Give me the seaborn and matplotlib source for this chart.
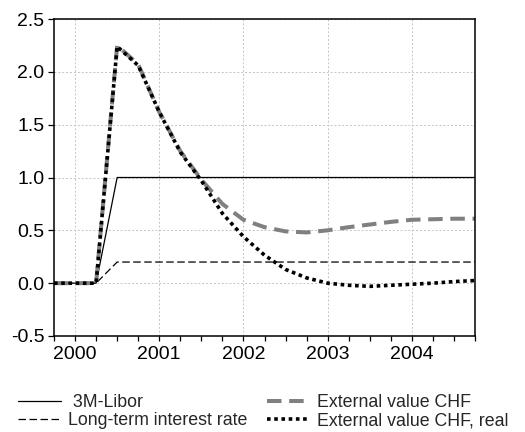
import numpy as np
import pandas as pd
import matplotlib
matplotlib.use("Agg")
import matplotlib.pyplot as plt
import seaborn as sns

# Quarterly impulse responses, 1999Q4 .. 2004Q4
quarters = ["1999Q4",
            "2000Q1", "2000Q2", "2000Q3", "2000Q4",
            "2001Q1", "2001Q2", "2001Q3", "2001Q4",
            "2002Q1", "2002Q2", "2002Q3", "2002Q4",
            "2003Q1", "2003Q2", "2003Q3", "2003Q4",
            "2004Q1", "2004Q2", "2004Q3", "2004Q4"]
libor_3m = [0, 0, 0, 1.0, 1.0, 1.0, 1.0, 1.0, 1.0, 1.0, 1.0,
            1.0, 1.0, 1.0, 1.0, 1.0, 1.0, 1.0, 1.0, 1.0, 1.0]
long_term_rate = [0, 0, 0, 0.2, 0.2, 0.2, 0.2, 0.2, 0.2, 0.2, 0.2,
                  0.2, 0.2, 0.2, 0.2, 0.2, 0.2, 0.2, 0.2, 0.2, 0.2]
ext_value_chf = [0, 0, 0, 2.25, 2.07, 1.62, 1.25, 0.98, 0.75, 0.60, 0.53,
                 0.49, 0.48, 0.50, 0.53, 0.555, 0.58, 0.60, 0.605, 0.61, 0.61]
ext_value_chf_real = [0, 0, 0, 2.24, 2.06, 1.62, 1.24, 0.97, 0.66, 0.44, 0.265,
                      0.13, 0.05, 0.0, -0.02, -0.03, -0.02, -0.01, 0.0, 0.015, 0.025]

year_labels = ["2000", "2001", "2002", "2003", "2004"]
y_ticks = [-0.5, 0.0, 0.5, 1.0, 1.5, 2.0, 2.5]


def quarter_to_float(q):
    year, qq = q.split("Q")
    return int(year) + (int(qq) - 1) / 4.0


df = pd.DataFrame({
    "t": [quarter_to_float(q) for q in quarters],
    "libor": libor_3m,
    "lt": long_term_rate,
    "ext": ext_value_chf,
    "ext_real": ext_value_chf_real,
})

sns.set_theme(style="white")
plt.rcParams["font.family"] = ["Liberation Sans", "DejaVu Sans"]

DPI = 100
fig = plt.figure(figsize=(5.25, 4.32), dpi=DPI)
ax = fig.add_axes([54 / 525, 1 - 336 / 432, 421 / 525, 317 / 432])

sns.lineplot(data=df, x="t", y="libor", ax=ax, color="black", linewidth=0.9,
             label=" 3M-Libor")
sns.lineplot(data=df, x="t", y="lt", ax=ax, color="black", linewidth=0.9,
             linestyle=(0, (6.0, 2.8)), dash_capstyle="butt",
             label="Long-term interest rate")
sns.lineplot(data=df, x="t", y="ext", ax=ax, color="#808080", linewidth=2.9,
             linestyle=(0, (3.6, 1.9)), dash_capstyle="butt",
             label="External value CHF")
sns.lineplot(data=df, x="t", y="ext_real", ax=ax, color="black", linewidth=2.6,
             linestyle=(0, (1.0, 1.0)), dash_capstyle="butt",
             label="External value CHF, real")

ax.set_xlim(df["t"].iloc[0], df["t"].iloc[-1])
ax.set_ylim(-0.5, 2.5)

year_pos = [float(y) for y in year_labels]
ax.set_xticks(year_pos)
ax.set_xticklabels(year_labels)
ax.set_xticks(df["t"].tolist(), minor=True)
ax.set_yticks(y_ticks)
ax.set_yticklabels([f"{v:.1f}" for v in y_ticks])

ax.set_xlabel("")
ax.set_ylabel("")

ax.grid(True, which="major", color="#c4c4c4", linestyle=(0, (2.0, 2.0)), linewidth=0.7)
ax.set_axisbelow(True)

for s in ax.spines.values():
    s.set_visible(True)
    s.set_color("black")
    s.set_linewidth(1.1)

ax.tick_params(axis="both", which="both", direction="out", color="black",
               width=0.9, labelsize=14, labelcolor="black")
ax.tick_params(axis="x", which="both", length=3.5, pad=4, top=False, bottom=True)
ax.tick_params(axis="y", which="major", length=4, pad=3, left=True, right=False)

ax.get_legend().remove()
handles, labels = ax.get_legend_handles_labels()
fig.legend(handles, labels, ncol=2, frameon=False, fontsize=12.8,
           loc="upper left", bbox_to_anchor=(6 / 525, 1 - 382 / 432),
           handlelength=2.4, handletextpad=0.4, columnspacing=1.1,
           labelspacing=0.05, borderpad=0.2)

fig.savefig("out.png", dpi=DPI, facecolor="white")
